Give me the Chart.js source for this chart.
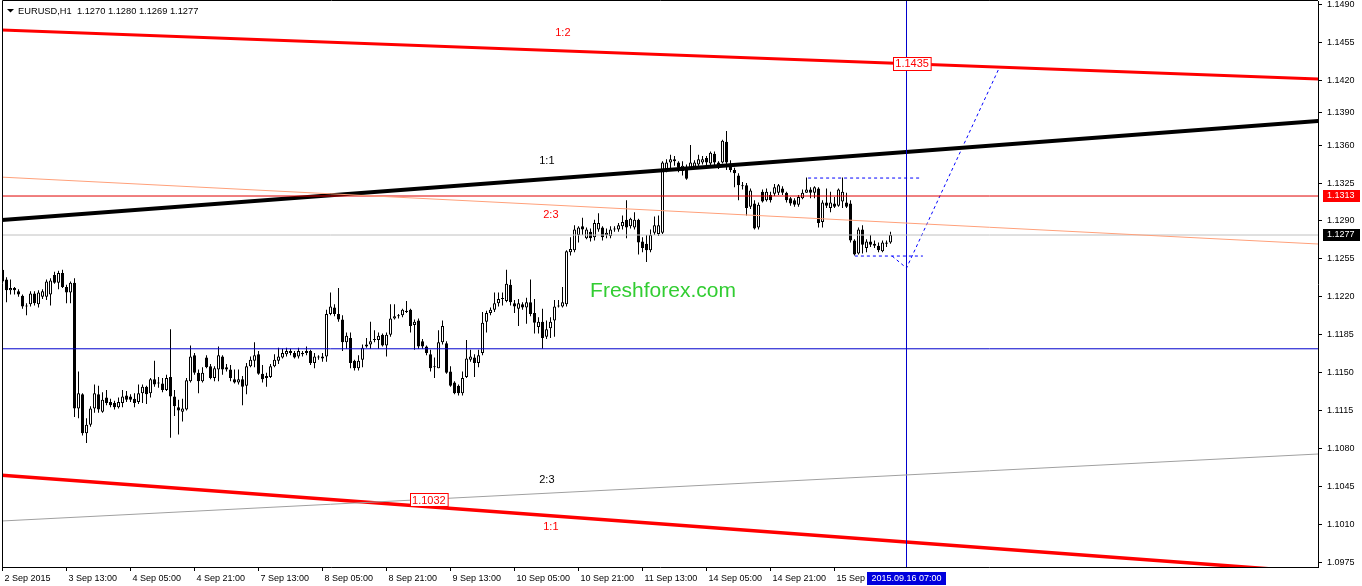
<!DOCTYPE html>
<html>
<head>
<meta charset="utf-8">
<title>EURUSD,H1</title>
<script src="https://cdn.jsdelivr.net/npm/chart.js@4.4.1/dist/chart.umd.min.js"></script>
<style>
  html, body { margin: 0; padding: 0; background: #fff; }
  #wrap { position: relative; width: 1362px; height: 586px; }
</style>
</head>
<body>
<div id="wrap"><canvas id="chart"></canvas></div>
<script>
// ── DATA: EURUSD H1 bars, 2 Sep 2015 21:00 .. 16 Sep 2015 03:00 ──────────
const opens = [
  1.1245, 1.1236, 1.1226, 1.1228, 1.1225, 1.1221, 1.1212, 1.1213, 1.1223, 1.1213,
  1.1220, 1.1220, 1.1222, 1.1240, 1.1233, 1.1242, 1.1229, 1.1224, 1.1233, 1.1117,
  1.1130, 1.1094, 1.1102, 1.1117, 1.1130, 1.1114, 1.1127, 1.1123, 1.1122, 1.1118,
  1.1122, 1.1129, 1.1128, 1.1126, 1.1123, 1.1131, 1.1137, 1.1131, 1.1144, 1.1141,
  1.1140, 1.1134, 1.1146, 1.1128, 1.1118, 1.1114, 1.1116, 1.1142, 1.1166, 1.1150,
  1.1142, 1.1164, 1.1156, 1.1145, 1.1153, 1.1165, 1.1155, 1.1153, 1.1144, 1.1141,
  1.1144, 1.1138, 1.1156, 1.1161, 1.1167, 1.1149, 1.1145, 1.1146, 1.1156, 1.1161,
  1.1164, 1.1167, 1.1170, 1.1168, 1.1165, 1.1168, 1.1168, 1.1170, 1.1159, 1.1164,
  1.1163, 1.1165, 1.1204, 1.1210, 1.1204, 1.1199, 1.1178, 1.1182, 1.1161, 1.1154,
  1.1162, 1.1174, 1.1176, 1.1180, 1.1180, 1.1185, 1.1175, 1.1185, 1.1200, 1.1202,
  1.1203, 1.1207, 1.1208, 1.1194, 1.1198, 1.1179, 1.1174, 1.1167, 1.1155, 1.1154,
  1.1178, 1.1177, 1.1151, 1.1141, 1.1138, 1.1131, 1.1146, 1.1162, 1.1164, 1.1159,
  1.1168, 1.1197, 1.1205, 1.1208, 1.1214, 1.1218, 1.1216, 1.1231, 1.1214, 1.1209,
  1.1213, 1.1210, 1.1215, 1.1205, 1.1192, 1.1197, 1.1183, 1.1191, 1.1198, 1.1211,
  1.1211, 1.1213, 1.1261, 1.1263, 1.1277, 1.1285, 1.1274, 1.1280, 1.1275, 1.1282,
  1.1284, 1.1277, 1.1276, 1.1282, 1.1282, 1.1285, 1.1291, 1.1285, 1.1284, 1.1291,
  1.1271, 1.1269, 1.1263, 1.1279, 1.1278, 1.1279, 1.1336, 1.1344, 1.1345, 1.1344,
  1.1336, 1.1340, 1.1339, 1.1340, 1.1342, 1.1344, 1.1348, 1.1343, 1.1352, 1.1344,
  1.1344, 1.1363, 1.1343, 1.1337, 1.1332, 1.1322, 1.1323, 1.1303, 1.1306, 1.1284,
  1.1317, 1.1309, 1.1314, 1.1315, 1.1316, 1.1320, 1.1316, 1.1311, 1.1309, 1.1305,
  1.1311, 1.1316, 1.1319, 1.1316, 1.1320, 1.1289, 1.1307, 1.1302, 1.1306, 1.1304,
  1.1308, 1.1307, 1.1306, 1.1272, 1.1260, 1.1282, 1.1265, 1.1271, 1.1269, 1.1267,
  1.1262, 1.1270, 1.1270
];
const highs = [
  1.1247, 1.1238, 1.1236, 1.1229, 1.1227, 1.1222, 1.1214, 1.1225, 1.1225, 1.1226,
  1.1227, 1.1236, 1.1237, 1.1243, 1.1244, 1.1245, 1.1231, 1.1234, 1.1237, 1.1151,
  1.1131, 1.1108, 1.1119, 1.1139, 1.1138, 1.1132, 1.1134, 1.1126, 1.1124, 1.1127,
  1.1134, 1.1133, 1.1130, 1.1131, 1.1139, 1.1139, 1.1138, 1.1145, 1.1161, 1.1146,
  1.1145, 1.1148, 1.1190, 1.1134, 1.1125, 1.1126, 1.1145, 1.1175, 1.1168, 1.1153,
  1.1155, 1.1166, 1.1158, 1.1156, 1.1174, 1.1166, 1.1158, 1.1157, 1.1153, 1.1153,
  1.1147, 1.1159, 1.1165, 1.1178, 1.1170, 1.1157, 1.1150, 1.1158, 1.1167, 1.1173,
  1.1172, 1.1173, 1.1172, 1.1170, 1.1173, 1.1170, 1.1174, 1.1171, 1.1168, 1.1166,
  1.1168, 1.1208, 1.1224, 1.1213, 1.1228, 1.1203, 1.1187, 1.1187, 1.1162, 1.1166,
  1.1176, 1.1182, 1.1197, 1.1189, 1.1187, 1.1186, 1.1187, 1.1213, 1.1213, 1.1204,
  1.1209, 1.1216, 1.1209, 1.1199, 1.1200, 1.1181, 1.1175, 1.1171, 1.1164, 1.1189,
  1.1198, 1.1179, 1.1156, 1.1142, 1.1139, 1.1151, 1.1180, 1.1171, 1.1167, 1.1171,
  1.1206, 1.1207, 1.1210, 1.1224, 1.1224, 1.1224, 1.1245, 1.1236, 1.1217, 1.1218,
  1.1215, 1.1219, 1.1236, 1.1218, 1.1201, 1.1209, 1.1198, 1.1201, 1.1217, 1.1217,
  1.1229, 1.1263, 1.1275, 1.1286, 1.1285, 1.1293, 1.1284, 1.1283, 1.1291, 1.1297,
  1.1285, 1.1283, 1.1285, 1.1285, 1.1288, 1.1295, 1.1309, 1.1293, 1.1298, 1.1292,
  1.1275, 1.1277, 1.1282, 1.1294, 1.1295, 1.1345, 1.1347, 1.1351, 1.1350, 1.1345,
  1.1345, 1.1342, 1.1360, 1.1346, 1.1351, 1.1350, 1.1350, 1.1354, 1.1354, 1.1345,
  1.1365, 1.1373, 1.1346, 1.1339, 1.1334, 1.1326, 1.1325, 1.1320, 1.1309, 1.1307,
  1.1319, 1.1320, 1.1317, 1.1324, 1.1324, 1.1322, 1.1317, 1.1312, 1.1311, 1.1314,
  1.1319, 1.1330, 1.1321, 1.1322, 1.1321, 1.1309, 1.1320, 1.1317, 1.1312, 1.1320,
  1.1330, 1.1316, 1.1309, 1.1273, 1.1284, 1.1286, 1.1273, 1.1277, 1.1272, 1.1270,
  1.1272, 1.1272, 1.1280
];
const lows = [
  1.1233, 1.1215, 1.1222, 1.1222, 1.1220, 1.1209, 1.1203, 1.1211, 1.1212, 1.1210,
  1.1218, 1.1217, 1.1212, 1.1232, 1.1227, 1.1228, 1.1214, 1.1214, 1.1109, 1.1108,
  1.1092, 1.1085, 1.1100, 1.1113, 1.1113, 1.1113, 1.1120, 1.1118, 1.1116, 1.1117,
  1.1118, 1.1123, 1.1123, 1.1118, 1.1121, 1.1122, 1.1121, 1.1127, 1.1137, 1.1136,
  1.1132, 1.1133, 1.1090, 1.1110, 1.1093, 1.1105, 1.1115, 1.1141, 1.1148, 1.1131,
  1.1141, 1.1154, 1.1144, 1.1142, 1.1142, 1.1148, 1.1151, 1.1142, 1.1140, 1.1139,
  1.1120, 1.1130, 1.1155, 1.1155, 1.1148, 1.1141, 1.1137, 1.1145, 1.1155, 1.1158,
  1.1163, 1.1165, 1.1166, 1.1163, 1.1163, 1.1165, 1.1166, 1.1157, 1.1154, 1.1162,
  1.1160, 1.1160, 1.1203, 1.1202, 1.1197, 1.1170, 1.1172, 1.1154, 1.1152, 1.1152,
  1.1155, 1.1173, 1.1172, 1.1178, 1.1172, 1.1174, 1.1165, 1.1183, 1.1199, 1.1200,
  1.1201, 1.1205, 1.1187, 1.1171, 1.1172, 1.1172, 1.1166, 1.1151, 1.1145, 1.1154,
  1.1176, 1.1149, 1.1137, 1.1130, 1.1129, 1.1129, 1.1145, 1.1160, 1.1146, 1.1155,
  1.1166, 1.1187, 1.1203, 1.1206, 1.1211, 1.1212, 1.1215, 1.1212, 1.1205, 1.1193,
  1.1208, 1.1195, 1.1202, 1.1186, 1.1186, 1.1172, 1.1181, 1.1182, 1.1183, 1.1210,
  1.1210, 1.1211, 1.1258, 1.1261, 1.1270, 1.1277, 1.1273, 1.1271, 1.1272, 1.1280,
  1.1272, 1.1274, 1.1274, 1.1280, 1.1280, 1.1282, 1.1274, 1.1283, 1.1282, 1.1259,
  1.1261, 1.1252, 1.1261, 1.1277, 1.1276, 1.1278, 1.1335, 1.1337, 1.1341, 1.1335,
  1.1332, 1.1328, 1.1337, 1.1338, 1.1340, 1.1342, 1.1341, 1.1341, 1.1341, 1.1338,
  1.1343, 1.1337, 1.1335, 1.1321, 1.1309, 1.1319, 1.1295, 1.1301, 1.1282, 1.1282,
  1.1307, 1.1308, 1.1307, 1.1313, 1.1314, 1.1314, 1.1307, 1.1304, 1.1303, 1.1303,
  1.1310, 1.1316, 1.1311, 1.1311, 1.1284, 1.1284, 1.1302, 1.1298, 1.1302, 1.1303,
  1.1302, 1.1302, 1.1270, 1.1258, 1.1259, 1.1260, 1.1261, 1.1266, 1.1265, 1.1261,
  1.1261, 1.1266, 1.1269
];
const closes = [
  1.1234, 1.1226, 1.1228, 1.1226, 1.1222, 1.1211, 1.1211, 1.1223, 1.1214, 1.1224,
  1.1225, 1.1234, 1.1235, 1.1233, 1.1242, 1.1229, 1.1224, 1.1233, 1.1117, 1.1131,
  1.1094, 1.1102, 1.1117, 1.1131, 1.1116, 1.1125, 1.1122, 1.1120, 1.1118, 1.1123,
  1.1128, 1.1125, 1.1125, 1.1122, 1.1131, 1.1137, 1.1130, 1.1144, 1.1139, 1.1140,
  1.1134, 1.1145, 1.1128, 1.1119, 1.1115, 1.1117, 1.1143, 1.1165, 1.1150, 1.1142,
  1.1150, 1.1155, 1.1145, 1.1154, 1.1166, 1.1153, 1.1153, 1.1145, 1.1141, 1.1144,
  1.1137, 1.1156, 1.1162, 1.1166, 1.1149, 1.1144, 1.1147, 1.1156, 1.1162, 1.1165,
  1.1168, 1.1170, 1.1168, 1.1164, 1.1170, 1.1167, 1.1170, 1.1159, 1.1165, 1.1164,
  1.1165, 1.1204, 1.1211, 1.1204, 1.1199, 1.1178, 1.1184, 1.1159, 1.1154, 1.1161,
  1.1173, 1.1176, 1.1179, 1.1181, 1.1184, 1.1175, 1.1185, 1.1200, 1.1202, 1.1202,
  1.1208, 1.1206, 1.1193, 1.1197, 1.1174, 1.1174, 1.1168, 1.1154, 1.1155, 1.1178,
  1.1193, 1.1150, 1.1138, 1.1131, 1.1131, 1.1145, 1.1163, 1.1165, 1.1159, 1.1166,
  1.1196, 1.1205, 1.1208, 1.1214, 1.1218, 1.1218, 1.1232, 1.1215, 1.1211, 1.1214,
  1.1210, 1.1215, 1.1204, 1.1196, 1.1197, 1.1182, 1.1190, 1.1197, 1.1211, 1.1212,
  1.1215, 1.1262, 1.1264, 1.1282, 1.1284, 1.1282, 1.1282, 1.1274, 1.1288, 1.1288,
  1.1275, 1.1279, 1.1282, 1.1282, 1.1286, 1.1289, 1.1284, 1.1292, 1.1291, 1.1270,
  1.1265, 1.1263, 1.1277, 1.1286, 1.1286, 1.1344, 1.1344, 1.1347, 1.1347, 1.1339,
  1.1341, 1.1329, 1.1344, 1.1344, 1.1347, 1.1347, 1.1344, 1.1353, 1.1344, 1.1339,
  1.1364, 1.1344, 1.1337, 1.1334, 1.1323, 1.1322, 1.1302, 1.1318, 1.1283, 1.1305,
  1.1308, 1.1317, 1.1309, 1.1321, 1.1323, 1.1316, 1.1309, 1.1306, 1.1305, 1.1312,
  1.1316, 1.1319, 1.1316, 1.1321, 1.1288, 1.1307, 1.1304, 1.1307, 1.1303, 1.1319,
  1.1317, 1.1303, 1.1272, 1.1259, 1.1282, 1.1268, 1.1271, 1.1268, 1.1267, 1.1263,
  1.1270, 1.1269, 1.1277
];

// axis ticks (bar index / price)
const xTickIdx    = [0, 16, 32, 48, 64, 80, 96, 112, 128, 144, 160, 176, 192, 208];
const xTickLabels = ["2 Sep 2015", "3 Sep 13:00", "4 Sep 05:00", "4 Sep 21:00", "7 Sep 13:00",
  "8 Sep 05:00", "8 Sep 21:00", "9 Sep 13:00", "10 Sep 05:00", "10 Sep 21:00",
  "11 Sep 13:00", "14 Sep 05:00", "14 Sep 21:00", "15 Sep 13:00"];
const yTicks = [1.1490, 1.1455, 1.1420, 1.1390, 1.1360, 1.1325, 1.1290, 1.1255,
  1.1220, 1.1185, 1.1150, 1.1115, 1.1080, 1.1045, 1.1010, 1.0975];

// drawn objects: [barIndex, price] endpoints
const channelTop    = [[-1, 1.14663], [330, 1.14208]];   // 1:2
const channelMid    = [[-1, 1.12907], [330, 1.13825]];   // 1:1 (black)
const fanUpper      = [[-1, 1.13306], [330, 1.12685]];   // 2:3 (salmon)
const fanLower      = [[-1, 1.10129], [330, 1.10751]];   // 2:3 (gray)
const channelBottom = [[-1, 1.10556], [330, 1.09653]];   // 1:1 (red)
const levelRed   = 1.1313;
const levelBid   = 1.1277;
const levelBlue  = 1.1172;
const cursorBar  = 226;
const dashTop    = [[201.4, 1.13296], [229.4, 1.13296]];
const dashLow    = [[213.1, 1.12576], [230.1, 1.12576]];
const dashPath   = [[222.4, 1.12576], [226, 1.12465], [249.4, 1.14330]];

// ── ANNOTATIONS (text objects anchored at bar / price) ───────────────────
const FONT = "'Liberation Sans', Arial, sans-serif";
const textLabels = [
  { text: "1:2", x: 140.1, y: 1.14634, color: "#ff0000" },
  { text: "1:1", x: 136.1, y: 1.13453, color: "#000000" },
  { text: "2:3", x: 137.1, y: 1.12955, color: "#ff0000" },
  { text: "2:3", x: 136.1, y: 1.10509, color: "#000000" },
  { text: "1:1", x: 137.1, y: 1.10075, color: "#ff0000" },
];
const priceTags = [
  { text: "1.1435", x: 227.4, y: 1.1435 },
  { text: "1.1032", x: 106.6, y: 1.1032 },
];

// ── DATASETS ─────────────────────────────────────────────────────────────
const bars = closes.map((_, i) => i);

const segment = (pts, color, width, dash) => ({
  type: "line",
  data: pts.map(([x, y]) => ({ x, y })),
  borderColor: color,
  borderWidth: width,
  borderDash: dash || [],
  pointRadius: 0,
  tension: 0,
  fill: false,
  clip: 0,
  order: 0,
});
const hline = (price, color) => segment([[-1, price], [330, price]], color, 1);

const datasets = [
  {
    label: "wicks",
    data: bars.map(i => ({ x: i, y: [lows[i], highs[i]] })),
    backgroundColor: "#000",
    borderWidth: 0,
    barThickness: 1,
    minBarLength: 1,
    grouped: false,
    inflateAmount: 0,
    order: 2,
  },
  {
    label: "bodies",
    data: bars.map(i => ({ x: i, y: [opens[i], closes[i]] })),
    backgroundColor: bars.map(i => closes[i] >= opens[i] ? "#ffffff" : "#000000"),
    borderColor: "#000",
    borderWidth: 1,
    borderSkipped: false,
    barThickness: 3,
    minBarLength: 1,
    grouped: false,
    inflateAmount: 0,
    order: 1,
  },
  segment(fanUpper, "#ffa07a", 1),
  segment(fanLower, "#a0a0a0", 1),
  hline(levelBid, "#c0c0c0"),
  hline(levelRed, "#e00000"),
  hline(levelBlue, "#0000cc"),
  segment([[cursorBar, 1.0], [cursorBar, 1.2]], "#0000cc", 1),
  segment(channelTop, "#ff0000", 3),
  segment(channelMid, "#000000", 4),
  segment(channelBottom, "#ff0000", 3.5),
  segment(dashTop, "#0000ff", 1, [3, 3]),
  segment(dashLow, "#0000ff", 1, [3, 3]),
  segment(dashPath, "#0000ff", 1, [3, 3]),
];

// ── OVERLAY: frame, texts, price tags ────────────────────────────────────
const overlay = {
  id: "overlay",
  afterDraw(chart) {
    const { ctx, chartArea: a, scales: { x, y } } = chart;
    ctx.save();

    // frame (top + left)
    ctx.strokeStyle = "#000";
    ctx.lineWidth = 1;
    ctx.beginPath();
    ctx.moveTo(a.left + 0.5, a.bottom);
    ctx.lineTo(a.left + 0.5, a.top - 0.5);
    ctx.lineTo(a.right, a.top - 0.5);
    ctx.stroke();

    // header
    ctx.fillStyle = "#000";
    ctx.beginPath();
    ctx.moveTo(7, 9); ctx.lineTo(14, 9); ctx.lineTo(10.5, 12.5); ctx.closePath();
    ctx.fill();
    ctx.font = `9.3px ${FONT}`;
    ctx.textBaseline = "alphabetic";
    ctx.textAlign = "left";
    ctx.fillText(`EURUSD,H1  ${opens.at(-1).toFixed(4)} ${highs.at(-1).toFixed(4)} ${lows.at(-1).toFixed(4)} ${closes.at(-1).toFixed(4)}`, 18, 14);

    // line labels
    ctx.font = `11px ${FONT}`;
    ctx.textAlign = "center";
    ctx.textBaseline = "middle";
    textLabels.forEach(l => {
      ctx.fillStyle = l.color;
      ctx.fillText(l.text, x.getPixelForValue(l.x), y.getPixelForValue(l.y));
    });

    // price tags on lines
    priceTags.forEach(t => {
      const cx = x.getPixelForValue(t.x), cy = y.getPixelForValue(t.y);
      const w = ctx.measureText(t.text).width + 4;
      const bx = Math.round(cx - w / 2) + 0.5, by = Math.round(cy - 7) + 0.5;
      ctx.fillStyle = "#fff";
      ctx.fillRect(bx, by, w, 13);
      ctx.strokeStyle = "#ff0000";
      ctx.strokeRect(bx, by, w, 13);
      ctx.fillStyle = "#ff0000";
      ctx.fillText(t.text, cx, cy + 0.5);
    });

    // watermark
    ctx.font = `21px ${FONT}`;
    ctx.textAlign = "left";
    ctx.textBaseline = "alphabetic";
    ctx.fillStyle = "#32cd32";
    ctx.fillText("Freshforex.com", x.getPixelForValue(146.9), y.getPixelForValue(1.12198));

    // right axis price boxes
    ctx.font = `9px ${FONT}`;
    ctx.textBaseline = "middle";
    [[levelRed, "#ff0000"], [levelBid, "#000000"]].forEach(([p, bg]) => {
      const py = Math.round(y.getPixelForValue(p));
      ctx.fillStyle = bg;
      ctx.fillRect(a.right + 5, py - 6, 37, 12);
      ctx.fillStyle = "#fff";
      ctx.fillText(p.toFixed(4), a.right + 9, py);
    });

    // cursor time box
    const cx = x.getPixelForValue(cursorBar);
    ctx.fillStyle = "#0000dd";
    ctx.fillRect(Math.round(cx - 39.5), a.bottom + 5, 79, 13);
    ctx.fillStyle = "#fff";
    ctx.textAlign = "center";
    ctx.fillText("2015.09.16 07:00", cx, a.bottom + 11.5);

    ctx.restore();
  }
};

// ── CHART CONFIG ─────────────────────────────────────────────────────────
const noPad = s => { s.paddingTop = 0; s.paddingBottom = 0; s.paddingLeft = 0; s.paddingRight = 0; };

const config = {
  type: "bar",
  data: { datasets },
  options: {
    responsive: true,
    maintainAspectRatio: false,
    animation: false,
    events: [],
    layout: { padding: { left: 2, top: 1, right: 0, bottom: 0 } },
    plugins: { legend: { display: false }, tooltip: { enabled: false } },
    scales: {
      x: {
        type: "linear",
        min: -0.125,
        max: 328.875,
        offset: false,
        grid: { display: true, offset: false, drawOnChartArea: false, drawTicks: true, tickLength: 4, color: "#000" },
        border: { display: true, color: "#000", width: 1 },
        afterBuildTicks: s => { s.ticks = xTickIdx.map(v => ({ value: v })); },
        afterFit: s => { s.height = 19; noPad(s); },
        ticks: {
          autoSkip: false, maxRotation: 0, minRotation: 0,
          align: "start", labelOffset: 2, padding: 2,
          color: "#000", font: { family: FONT, size: 9 },
          callback: (v, i) => xTickLabels[i] ?? ""
        }
      },
      y: {
        type: "linear",
        position: "right",
        min: 1.09706,
        max: 1.14930,
        grid: { display: true, drawOnChartArea: false, drawTicks: true, tickLength: 4, color: "#000" },
        border: { display: true, color: "#000", width: 1 },
        afterBuildTicks: s => { s.ticks = yTicks.map(v => ({ value: v })); },
        afterFit: s => { s.width = 44; noPad(s); },
        ticks: {
          autoSkip: false, padding: 5,
          color: "#000", font: { family: FONT, size: 9 },
          callback: v => v.toFixed(4)
        }
      }
    }
  },
  plugins: [overlay]
};

new Chart(document.getElementById("chart").getContext("2d"), config);
</script>
</body>
</html>
